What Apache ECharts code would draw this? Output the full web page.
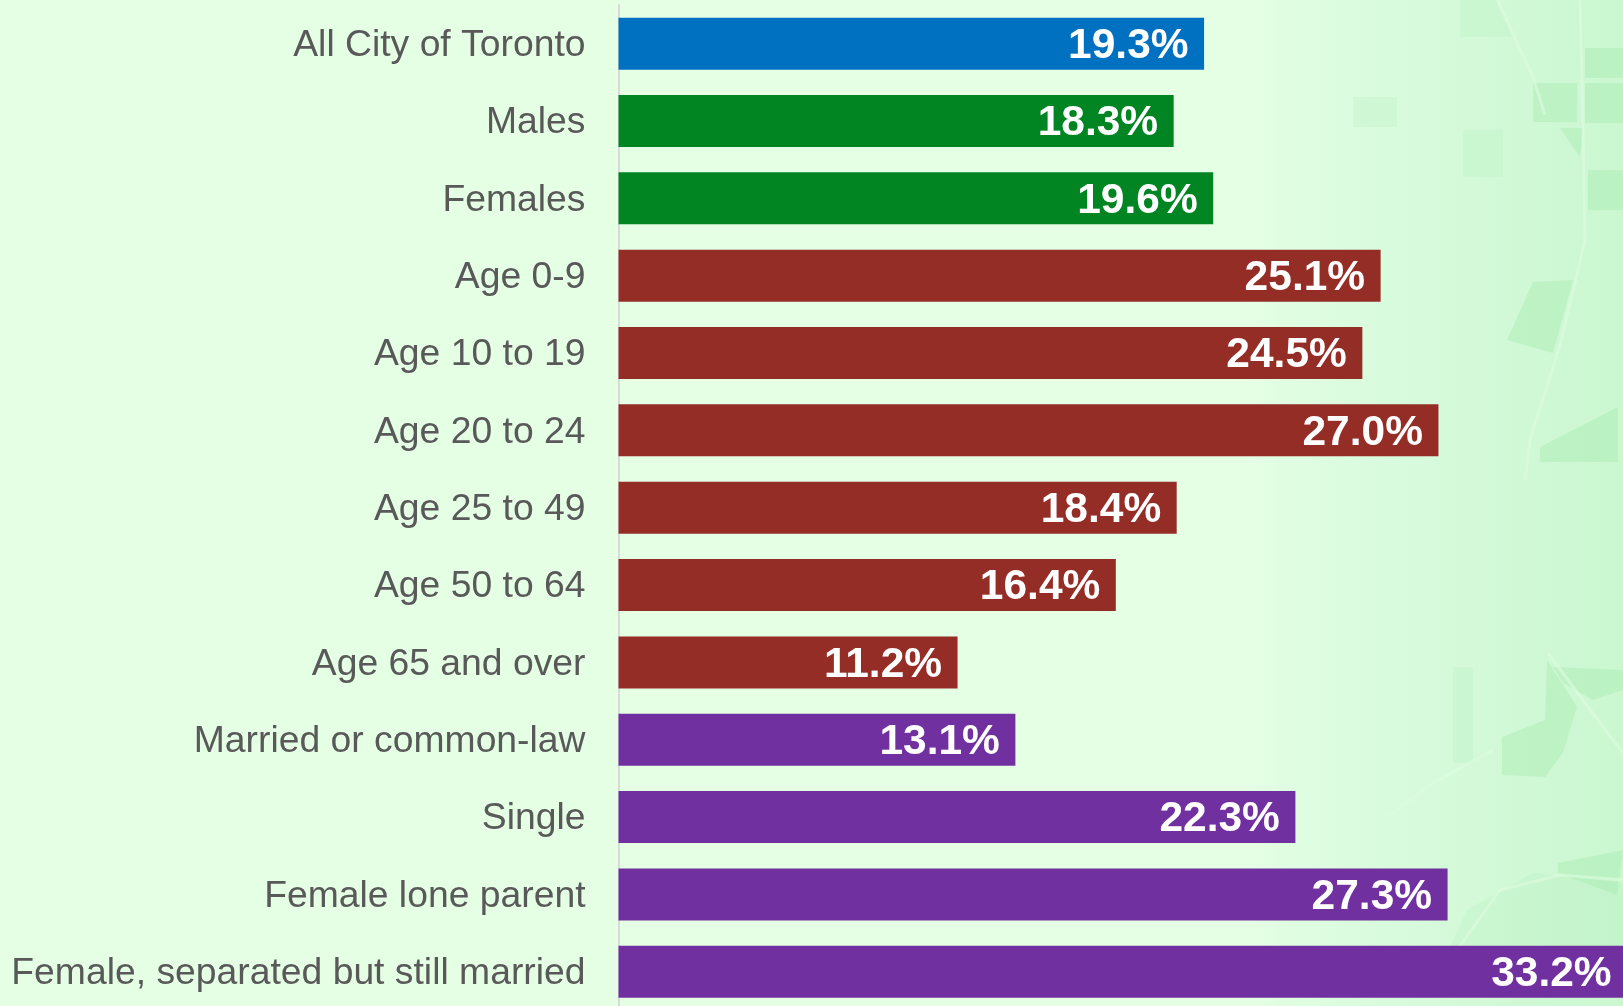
<!DOCTYPE html>
<html><head><meta charset="utf-8">
<style>html,body{margin:0;padding:0;background:#E5FFE5}#c{width:1623px;height:1006px}</style>
<script src="https://cdn.jsdelivr.net/npm/echarts@6/dist/echarts.min.js"></script>
</head><body><div id="c"></div>
<script>
const categories = ["All City of Toronto","Males","Females","Age 0-9","Age 10 to 19","Age 20 to 24","Age 25 to 49","Age 50 to 64","Age 65 and over","Married or common-law","Single","Female lone parent","Female, separated but still married"];
const values = [19.3,18.3,19.6,25.1,24.5,27.0,18.4,16.4,11.2,13.1,22.3,27.3,33.2];
const groups = ["all","sex","sex","age","age","age","age","age","age","family","family","family","family"];
const groupColors = {all:"#0070C0",sex:"#008522",age:"#952D27",family:"#7030A0"};

// decorative faint map texture behind the plot
const mapBlocks = [
 [[1533,83],[1577,83],[1577,122],[1533,122]],
 [[1585,48],[1623,48],[1623,78],[1585,78]],
 [[1585,83],[1623,83],[1623,123],[1585,123]],
 [[1588,170],[1623,170],[1623,210],[1588,210]],
 [[1560,128],[1583,128],[1580,157]],
 [[1533,282],[1573,280],[1553,353],[1507,340]],
 [[1540,447],[1618,407],[1618,462],[1540,462]],
 [[1502,737],[1545,720],[1547,660],[1577,707],[1563,753],[1545,777],[1502,775]],
 [[1558,863],[1623,850],[1617,895],[1558,873]],
 [[1553,667],[1623,670],[1623,690],[1593,700],[1563,683]]
];
const mapFaintBlocks = [
 [[1460,0],[1497,0],[1514,37],[1460,37]],
 [[1463,130],[1503,130],[1503,177],[1463,177]],
 [[1453,667],[1473,667],[1473,763],[1453,763]],
 [[1467,910],[1533,873],[1623,883],[1623,947],[1450,947]],
 [[1353,97],[1397,97],[1397,127],[1353,127]]
];
const mapRoads = [
 [[1580,0],[1583,128],[1585,240],[1578,270],[1560,345],[1530,440],[1525,480]],
 [[1497,0],[1533,77],[1545,115]],
 [[1548,653],[1585,703],[1623,753]],
 [[1387,817],[1433,783],[1493,750]],
 [[1450,960],[1500,890],[1560,875],[1623,880]]
];

const graphics = [{
  type:"rect", z:-10, silent:true, shape:{x:0,y:0,width:1623,height:1006},
  style:{fill:new echarts.graphic.LinearGradient(0,0,1,0,[
    {offset:0,color:"#E5FFE5"},{offset:0.77,color:"#E5FFE5"},
    {offset:0.79,color:"#E0FDE2"},{offset:0.88,color:"#D6FADB"},{offset:1,color:"#CAF7D0"}])}
}];
mapBlocks.forEach(p=>graphics.push({type:"polygon",z:-9,silent:true,shape:{points:p},style:{fill:"#A8EAB2",opacity:0.45}}));
mapFaintBlocks.forEach(p=>graphics.push({type:"polygon",z:-9,silent:true,shape:{points:p},style:{fill:"#A8EAB2",opacity:0.2}}));
mapRoads.forEach(p=>graphics.push({type:"polyline",z:-8,silent:true,shape:{points:p},style:{stroke:"#DDFBE0",lineWidth:3,fill:null,opacity:0.6}}));

const chart = echarts.init(document.getElementById("c"),null,{renderer:"canvas"});
chart.setOption({
  animation:false,
  graphic:graphics,
  grid:{left:618.5,top:5,width:1033,height:1005.4,outerBoundsMode:"none",containLabel:false},
  xAxis:{type:"value",min:0.06,max:34,show:false},
  yAxis:{type:"category",inverse:true,data:categories,
    axisLine:{show:true,lineStyle:{color:"#D9D9D9",width:2}},
    axisTick:{show:false},
    axisLabel:{margin:33,formatter:v=>"{a|"+v+"}",
      rich:{a:{color:"#595959",fontFamily:"Liberation Sans",fontSize:37.3,padding:[4,0,0,0]}}}},
  series:[{type:"bar",barWidth:52,clip:true,
    data:values.map((v,i)=>({value:v,itemStyle:{color:groupColors[groups[i]]}})),
    label:{show:true,position:"insideRight",distance:15.5,offset:[0,2.5],color:"#FFFFFF",fontFamily:"Liberation Sans",fontWeight:"bold",fontSize:42.5,
      formatter:p=>p.value.toFixed(1)+"%"}}]
});
</script></body></html>
